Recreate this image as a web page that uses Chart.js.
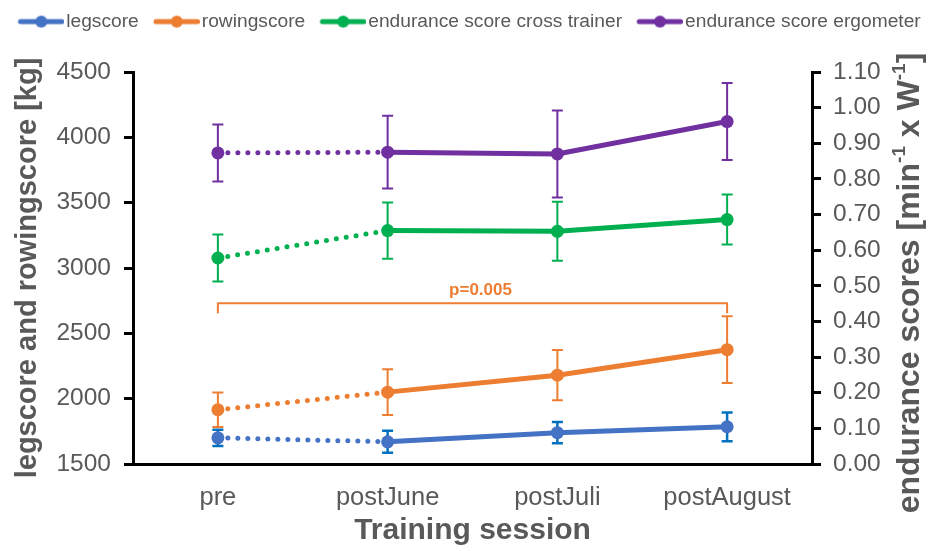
<!DOCTYPE html>
<html>
<head>
<meta charset="utf-8">
<script src="https://cdn.jsdelivr.net/npm/chart.js@4.4.1/dist/chart.umd.min.js"></script>
<style>
  html, body { margin: 0; padding: 0; background: #ffffff; }
  #wrap { width: 930px; height: 551px; }
</style>
</head>
<body>
<div id="wrap"><canvas id="chart" width="930" height="551"></canvas></div>
<script>
// Training sessions on the x axis
const sessions = ['pre', 'postJune', 'postJuli', 'postAugust'];

// Strength scores [kg] (left axis), mean and SD
const legScore = [1700, 1670, 1740, 1785];
const legSD = [62, 84, 82, 110];
const rowingScore = [1915, 2050, 2180, 2375];
const rowingSD = [132, 175, 192, 255];

// Endurance scores [min^-1 x W^-1] (right axis), mean and SD
const crossTrainer = [0.578, 0.655, 0.653, 0.686];
const crossTrainerSD = [0.066, 0.079, 0.083, 0.070];
const ergometer = [0.873, 0.875, 0.870, 0.961];
const ergometerSD = [0.080, 0.102, 0.122, 0.108];

// Axis ranges and tick steps
const leftAxis = { min: 1500, max: 4500, step: 500 };
const rightAxis = { min: 0, max: 1.1, step: 0.1 };

// Significance bracket over the rowing score (pre vs postAugust)
const bracketLevel = 2730;
const bracketFrom = 0;
const bracketTo = 3;
const bracketLabel = 'p=0.005';

const GREY = '#595959';
const FONT = "'Liberation Sans', Arial, Helvetica, sans-serif";
const COLORS = {
  leg: '#4472C4', legErr: '#0070C0',
  rowing: '#ED7D31',
  cross: '#00B050',
  ergo: '#7030A0'
};

Chart.defaults.font.family = FONT;
Chart.defaults.color = GREY;

// Dotted link from pre to postJune, solid afterwards
const dottedFirst = ctx => ctx.p0DataIndex === 0 ? [0, 10] : undefined;

function lineDataset(label, data, sd, color, errColor, axis, errWidth) {
  return {
    label, data,
    sd, errColor, errWidth,
    yAxisID: axis,
    borderColor: color,
    backgroundColor: color,
    borderWidth: 5,
    borderCapStyle: 'round',
    pointRadius: 6.5,
    pointHoverRadius: 6.5,
    pointBorderWidth: 0,
    pointBackgroundColor: color,
    tension: 0,
    segment: { borderDash: dottedFirst }
  };
}

// Legend sample: short line with a marker in the middle
function legendSample(color) {
  const c = document.createElement('canvas');
  c.width = 63; c.height = 14;
  const g = c.getContext('2d');
  g.strokeStyle = color;
  g.lineWidth = 5;
  g.lineCap = 'round';
  g.beginPath(); g.moveTo(19, 7); g.lineTo(60.5, 7); g.stroke();
  g.fillStyle = color;
  g.beginPath(); g.arc(39.8, 7, 6, 0, Math.PI * 2); g.fill();
  return c;
}

// Vertical error bars with caps
const errorBars = {
  id: 'errorBars',
  beforeDatasetsDraw(chart) {
    const ctx = chart.ctx;
    chart.data.datasets.forEach((ds, i) => {
      const meta = chart.getDatasetMeta(i);
      if (meta.hidden) return;
      const yScale = chart.scales[ds.yAxisID];
      ctx.save();
      ctx.strokeStyle = ds.errColor;
      ctx.lineWidth = ds.errWidth;
      meta.data.forEach((pt, j) => {
        const v = ds.data[j], e = ds.sd[j];
        const yt = yScale.getPixelForValue(v + e);
        const yb = yScale.getPixelForValue(v - e);
        const x = pt.x, cap = 5.5;
        ctx.beginPath();
        ctx.moveTo(x, yt); ctx.lineTo(x, yb);
        ctx.moveTo(x - cap, yt); ctx.lineTo(x + cap, yt);
        ctx.moveTo(x - cap, yb); ctx.lineTo(x + cap, yb);
        ctx.stroke();
      });
      ctx.restore();
    });
  }
};

// Significance bracket with its label
const significance = {
  id: 'significance',
  afterDatasetsDraw(chart) {
    const ctx = chart.ctx;
    const xs = chart.scales.x, ys = chart.scales.y;
    const x0 = xs.getPixelForValue(bracketFrom);
    const x1 = xs.getPixelForValue(bracketTo);
    const yb = ys.getPixelForValue(bracketLevel);
    ctx.save();
    ctx.strokeStyle = COLORS.rowing;
    ctx.lineWidth = 2;
    ctx.lineJoin = 'round';
    ctx.beginPath();
    ctx.moveTo(x0, yb + 10);
    ctx.lineTo(x0, yb);
    ctx.lineTo(x1, yb);
    ctx.lineTo(x1, yb + 10);
    ctx.stroke();
    ctx.fillStyle = COLORS.rowing;
    ctx.font = 'bold 17px ' + FONT;
    ctx.textAlign = 'center';
    ctx.textBaseline = 'alphabetic';
    ctx.fillText(bracketLabel, (x0 + x1) / 2 + 8, yb - 8);
    ctx.restore();
  }
};

// Right axis title, read bottom-to-top, with superscript exponents
const rightTitle = {
  id: 'rightTitle',
  afterDraw(chart) {
    const ctx = chart.ctx;
    const parts = [
      ['endurance scores [min', false],
      ['-1', true],
      [' x W', false],
      ['-1', true],
      [']', false]
    ];
    const main = 'bold 32px ' + FONT;
    const sup = 'bold 19px ' + FONT;
    ctx.save();
    let total = 0;
    parts.forEach(([t, s]) => { ctx.font = s ? sup : main; total += ctx.measureText(t).width; });
    const cx = 910, cy = 283;
    ctx.translate(cx, cy);
    ctx.rotate(-Math.PI / 2);
    ctx.fillStyle = GREY;
    ctx.textBaseline = 'middle';
    ctx.textAlign = 'left';
    let x = -total / 2;
    parts.forEach(([t, s]) => {
      ctx.font = s ? sup : main;
      ctx.fillText(t, x, s ? -10 : 0);
      x += ctx.measureText(t).width;
    });
    ctx.restore();
  }
};

const samples = [legendSample(COLORS.leg), legendSample(COLORS.rowing),
                 legendSample(COLORS.cross), legendSample(COLORS.ergo)];

new Chart(document.getElementById('chart'), {
  type: 'line',
  data: {
    labels: sessions,
    datasets: [
      lineDataset('legscore', legScore, legSD, COLORS.leg, COLORS.legErr, 'y', 2.5),
      lineDataset('rowingscore', rowingScore, rowingSD, COLORS.rowing, COLORS.rowing, 'y', 2),
      lineDataset('endurance score cross trainer', crossTrainer, crossTrainerSD, COLORS.cross, COLORS.cross, 'y1', 2),
      lineDataset('endurance score ergometer', ergometer, ergometerSD, COLORS.ergo, COLORS.ergo, 'y1', 2)
    ]
  },
  options: {
    responsive: false,
    animation: false,
    devicePixelRatio: 1,
    layout: { padding: { top: 6, left: 0, right: 0, bottom: 0 } },
    plugins: {
      tooltip: { enabled: false },
      title: {
        display: true, text: '', weight: 500,
        font: { size: 10, lineHeight: 1 },
        padding: { top: 0, bottom: 20.8 }
      },
      legend: {
        position: 'top',
        labels: {
          usePointStyle: true,
          pointStyleWidth: 47.4,
          padding: 6,
          color: GREY,
          font: { size: 19.2 },
          generateLabels(chart) {
            const items = Chart.defaults.plugins.legend.labels.generateLabels(chart);
            items.forEach(it => { it.pointStyle = samples[it.datasetIndex]; });
            return items;
          }
        }
      }
    },
    scales: {
      x: {
        type: 'category',
        offset: true,
        grid: { display: false, drawTicks: false },
        border: { display: true, color: '#000000', width: 3 },
        ticks: { color: GREY, font: { size: 25.5 }, padding: 19 },
        title: {
          display: true, text: 'Training session', color: GREY,
          font: { size: 30, weight: 'bold' },
          padding: { top: 0, bottom: 2 }
        },
        afterFit(s) { s.height = 87; }
      },
      y: {
        position: 'left',
        min: leftAxis.min, max: leftAxis.max,
        ticks: {
          stepSize: leftAxis.step, color: GREY, font: { size: 24.5 }, padding: 13,
          callback: v => String(v)
        },
        grid: { drawOnChartArea: false, drawTicks: true, tickLength: 9, color: '#000000', lineWidth: 3 },
        border: { color: '#000000', width: 3 },
        title: {
          display: true, text: 'legscore and rowingscore [kg]', color: GREY,
          font: { size: 29, weight: 'bold' },
          padding: { top: 11, bottom: 0 }
        },
        afterFit(s) { s.width = 133; }
      },
      y1: {
        position: 'right',
        min: rightAxis.min, max: rightAxis.max,
        ticks: {
          stepSize: rightAxis.step, color: GREY, font: { size: 24.5 }, padding: 12,
          callback: v => v.toFixed(2)
        },
        grid: { drawOnChartArea: false, drawTicks: true, tickLength: 9, color: '#000000', lineWidth: 3 },
        border: { color: '#000000', width: 3 },
        afterFit(s) { s.width = 118; }
      }
    }
  },
  plugins: [errorBars, significance, rightTitle]
});
</script>
</body>
</html>
